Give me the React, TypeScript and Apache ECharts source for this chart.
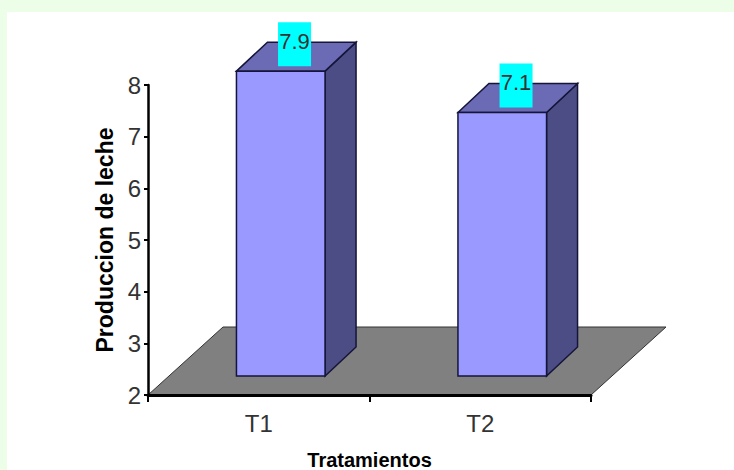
import React, { useEffect, useRef } from "react";
import * as echarts from "echarts";

const categories = ["T1", "T2"];
const values = [7.9, 7.1];
const yTitle = "Produccion de leche";
const xTitle = "Tratamientos";

const textFont = "'Liberation Sans', sans-serif";
const titleFont = "'Liberation Sans', sans-serif";

export default function App() {
  const ref = useRef<HTMLDivElement>(null);
  useEffect(() => {
    document.body.style.margin = "0";
    const chart = echarts.init(ref.current!, null, { renderer: "svg" });
    const floorDx = 75;
    const floorDy = 68;
    const barDx = 31;
    const barDy = 29;
    const shiftX = 22;
    const shiftY = 19;
    chart.setOption({
      animation: false,
      backgroundColor: "transparent",
      grid: { left: 148, top: 85, width: 443, height: 310, containLabel: false, outerBoundsMode: "none" },
      xAxis: {
        type: "category",
        data: categories,
        z: 5,
        axisLine: { lineStyle: { color: "#000", width: 3 } },
        axisTick: { show: true, length: 7, lineStyle: { color: "#000", width: 2 } },
        axisLabel: { fontFamily: textFont, fontSize: 24, color: "#333", margin: 16 },
        name: xTitle,
        nameLocation: "middle",
        nameGap: 55,
        nameTextStyle: { fontFamily: titleFont, fontSize: 20, fontWeight: "bold", color: "#000" },
      },
      yAxis: {
        type: "value",
        min: 2,
        max: 8,
        interval: 1,
        z: 5,
        splitLine: { show: false },
        axisLine: { show: true, onZero: false, lineStyle: { color: "#000", width: 2.5 } },
        axisTick: { show: true, length: 4, lineStyle: { color: "#000", width: 2 } },
        axisLabel: { fontFamily: textFont, fontSize: 24, color: "#333", margin: 7 },
        name: yTitle,
        nameLocation: "middle",
        nameGap: 31,
        nameRotate: 90,
        nameTextStyle: { fontFamily: titleFont, fontSize: 23, fontWeight: "bold", color: "#000" },
      },
      series: [
        {
          type: "custom",
          z: 1,
          silent: true,
          data: [0],
          renderItem: (params: any, api: any) => {
            const o = api.coord([0, 2]);
            const left = params.coordSys.x;
            const right = left + params.coordSys.width;
            const y = o[1];
            return {
              type: "polygon",
              shape: {
                points: [
                  [left, y],
                  [right, y],
                  [right + floorDx, y - floorDy],
                  [left + floorDx, y - floorDy],
                ],
              },
              style: { fill: "#808080", stroke: "#333", lineWidth: 1 },
            };
          },
        },
        {
          type: "custom",
          z: 2,
          encode: { x: 0, y: 1 },
          data: values.map((v, i) => [i, v]),
          renderItem: (params: any, api: any) => {
            const cat = api.value(0);
            const val = api.value(1);
            const top = api.coord([cat, val]);
            const base = api.coord([cat, 2]);
            const w = api.size([1, 0])[0] * 0.4;
            const x0 = top[0] + shiftX - w / 2;
            const x1 = x0 + w;
            const yT = top[1] - shiftY;
            const yB = base[1] - shiftY;
            const edge = { stroke: "#15153a", lineWidth: 1.5 };
            const lx = x1 - 47 + 33 / 2;
            return {
              type: "group",
              children: [
                {
                  type: "polygon",
                  shape: { points: [[x1, yT], [x1 + barDx, yT - barDy], [x1 + barDx, yB - barDy], [x1, yB]] },
                  style: { fill: "#4d4d85", ...edge },
                },
                {
                  type: "polygon",
                  shape: { points: [[x0, yT], [x0 + barDx, yT - barDy], [x1 + barDx, yT - barDy], [x1, yT]] },
                  style: { fill: "#6a6ab5", ...edge },
                },
                {
                  type: "rect",
                  shape: { x: x0, y: yT, width: w, height: yB - yT },
                  style: { fill: "#9999ff", ...edge },
                },
                {
                  type: "rect",
                  shape: { x: lx - 16.5, y: yT - 49, width: 33, height: 44 },
                  style: { fill: "#00ffff" },
                },
                {
                  type: "text",
                  style: {
                    x: lx,
                    y: yT - 30,
                    text: String(val),
                    fontFamily: textFont,
                    fontSize: 22,
                    fill: "#333",
                    align: "center",
                    verticalAlign: "middle",
                  },
                },
              ],
            };
          },
        },
      ],
    });
    return () => chart.dispose();
  }, []);
  return (
    <div style={{ position: "relative", width: 734, height: 470, background: "#edfee8", overflow: "hidden" }}>
      <div style={{ position: "absolute", left: 7, top: 12, right: 0, bottom: 0, background: "#fff" }} />
      <div ref={ref} style={{ position: "absolute", left: 0, top: 0, width: 734, height: 470 }} />
    </div>
  );
}
